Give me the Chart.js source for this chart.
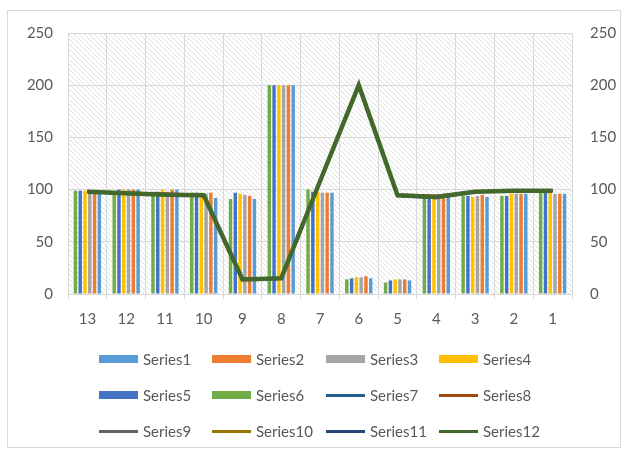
<!DOCTYPE html>
<html>
<head>
<meta charset="utf-8">
<script src="https://cdn.jsdelivr.net/npm/chart.js@4"></script>
<style>
    html, body { margin: 0; padding: 0; background: #fff; }
    #wrap { position: relative; width: 629px; height: 452px; }
    #frame { position: absolute; left: 7px; top: 10px; width: 614px; height: 438px; border: 1px solid #d9d9d9; box-sizing: border-box; }
    canvas { position: absolute; left: 0; top: 0; }
    .legend-item { position: absolute; display: flex; align-items: center; font: 15px Lato, sans-serif; color: #595959; height: 20px; }
    .legend-box { width: 39px; height: 8px; margin-right: 5px; }
    .legend-line { width: 39px; height: 3px; margin-right: 5px; }
</style>
</head>
<body>
<div id="wrap">
    <div id="frame"></div>
    <canvas id="chart" width="629" height="452"></canvas>
    <div id="legend"></div>
</div>
<script>
const CATEGORIES = ['13', '12', '11', '10', '9', '8', '7', '6', '5', '4', '3', '2', '1'];

// bar series
const SERIES1 = [99, 100, 100, 92, 91, 200, 97, 15, 13, 93, 93, 96, 96];
const SERIES2 = [99, 100, 100, 97, 94, 200, 97, 17, 14, 93, 95, 96, 96];
const SERIES3 = [99, 100, 98, 96, 95, 200, 97, 16, 14, 93, 94, 96, 96];
const SERIES4 = [99, 100, 100, 97, 96, 200, 98, 16, 14, 92, 93, 96, 97];
const SERIES5 = [99, 100, 98, 97, 97, 200, 98, 15, 13, 92, 94, 94, 97];
const SERIES6 = [99, 97, 98, 97, 91, 200, 100, 14, 11, 92, 94, 94, 97];

// line series
const SERIES7  = [98, 96, 96, 95, 15, 15, 108, 200, 95, 93, 98, 99, 99];
const SERIES8  = [98, 97, 96, 95, 14, 15, 108, 200, 95, 94, 98, 99, 99];
const SERIES9  = [98, 96, 95, 95, 14, 15, 108, 200, 95, 93, 98, 99, 99];
const SERIES10 = [98, 96, 95, 94, 14, 15, 108, 200, 94, 93, 98, 99, 99];
const SERIES11 = [98, 96, 95, 94, 14, 15, 108, 200, 94, 92, 98, 99, 99];
const SERIES12 = [98, 96.5, 95, 94.5, 14, 15, 108, 200, 94.5, 93, 98, 99, 99];

const Y_TICKS = [0, 50, 100, 150, 200, 250];

const BAR_SERIES = [
    { name: 'Series1', data: SERIES1, color: '#5b9bd5' },
    { name: 'Series2', data: SERIES2, color: '#ed7d31' },
    { name: 'Series3', data: SERIES3, color: '#a5a5a5' },
    { name: 'Series4', data: SERIES4, color: '#ffc000' },
    { name: 'Series5', data: SERIES5, color: '#4472c4' },
    { name: 'Series6', data: SERIES6, color: '#70ad47' },
];
const LINE_SERIES = [
    { name: 'Series7',  data: SERIES7,  color: '#255e91', width: 2.5 },
    { name: 'Series8',  data: SERIES8,  color: '#9e480e', width: 2.5 },
    { name: 'Series9',  data: SERIES9,  color: '#636363', width: 2.5 },
    { name: 'Series10', data: SERIES10, color: '#997300', width: 2.5 },
    { name: 'Series11', data: SERIES11, color: '#264478', width: 2.5 },
    { name: 'Series12', data: SERIES12, color: '#43682b', width: 4.5 },
];

function hatch() {
    const c = document.createElement('canvas');
    c.width = 5; c.height = 5;
    const g = c.getContext('2d');
    g.strokeStyle = '#dedede';
    g.lineWidth = 1;
    g.beginPath();
    g.moveTo(-1, -1); g.lineTo(6, 6);
    g.moveTo(-1, 4); g.lineTo(1, 6);
    g.moveTo(4, -1); g.lineTo(6, 1);
    g.stroke();
    return c;
}

const hatchBg = {
    id: 'hatchBg',
    beforeDraw(chart) {
        const { ctx, chartArea: a } = chart;
        ctx.save();
        ctx.fillStyle = ctx.createPattern(hatch(), 'repeat');
        ctx.fillRect(a.left, a.top, a.right - a.left, a.bottom - a.top);
        ctx.restore();
    }
};

// Excel draws the bars of a group in reverse order (Series6 first)
const datasets = BAR_SERIES.slice().reverse().map(s => ({
    type: 'bar',
    label: s.name,
    data: s.data,
    backgroundColor: s.color,
    borderWidth: 0,
    yAxisID: 'y',
    categoryPercentage: 0.74,
    barPercentage: 0.72,
}));
LINE_SERIES.forEach((s, i) => datasets.push({
    type: 'line',
    label: s.name,
    data: s.data,
    borderColor: s.color,
    backgroundColor: s.color,
    borderWidth: s.width,
    pointRadius: 0,
    tension: 0,
    yAxisID: 'y2',
    order: -(i + 1),
}));

const tickFont = { family: 'Lato, sans-serif', size: 15 };

new Chart(document.getElementById('chart'), {
    data: { labels: CATEGORIES, datasets },
    plugins: [hatchBg],
    options: {
        responsive: false,
        animation: false,
        layout: { padding: { left: 7, right: 7, top: 33, bottom: 0 } },
        plugins: { legend: { display: false }, tooltip: { enabled: false } },
        scales: {
            x: {
                grid: { color: '#d9d9d9', offset: true, tickLength: 5 },
                border: { color: '#d9d9d9' },
                ticks: { color: '#595959', font: tickFont, padding: 11 },
                afterFit: s => { s.height = 158; },
            },
            y: {
                position: 'left',
                min: 0, max: 250,
                afterBuildTicks: s => { s.ticks = Y_TICKS.map(v => ({ value: v })); },
                grid: { color: '#d9d9d9', drawTicks: false },
                border: { display: false },
                ticks: { color: '#595959', font: tickFont, padding: 15 },
                afterFit: s => { s.width = 61; },
            },
            y2: {
                position: 'right',
                min: 0, max: 250,
                afterBuildTicks: s => { s.ticks = Y_TICKS.map(v => ({ value: v })); },
                grid: { display: false, drawTicks: false },
                border: { display: false },
                ticks: { color: '#595959', font: tickFont, padding: 18 },
                afterFit: s => { s.width = 50; },
            },
        }
    }
});

// legend laid out like the Excel one: 4 columns, 3 rows
const LEGEND_COLS = [99, 212, 326, 439];
const LEGEND_ROWS = [359, 395, 431];
const legendEl = document.getElementById('legend');
legendEl.innerHTML = BAR_SERIES.map(s => ({ ...s, kind: 'box' }))
    .concat(LINE_SERIES.map(s => ({ ...s, kind: 'line' })))
    .map((s, i) => `
        <div class="legend-item" style="left:${LEGEND_COLS[i % 4]}px;top:${LEGEND_ROWS[Math.floor(i / 4)] - 10}px">
            <div class="legend-${s.kind}" style="background:${s.color}"></div>
            <span>${s.name}</span>
        </div>
    `).join('');
</script>
</body>
</html>
